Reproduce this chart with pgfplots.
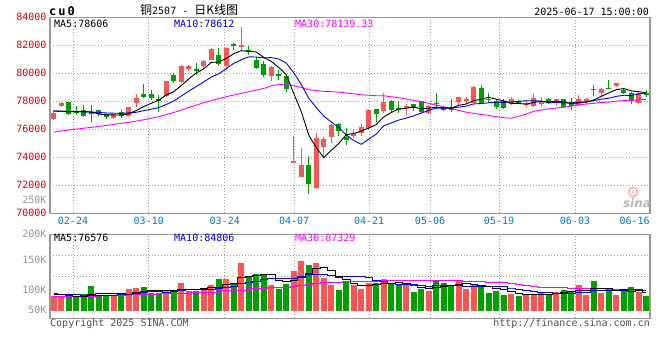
\documentclass[border=0pt]{standalone}
\usepackage{pgfplots}
\pgfplotsset{compat=1.18}
\usepackage{pgfplotstable}
\usepackage{fontspec}
\setmainfont{DejaVu Sans Mono}
\setsansfont{DejaVu Sans}
\newfontfamily\cjk{Noto Sans CJK SC}
\definecolor{kred}{RGB}{250,85,85}
\definecolor{kgreen}{RGB}{0,160,0}
\definecolor{framegray}{RGB}{153,153,153}
\definecolor{gridgray}{RGB}{160,160,160}
\definecolor{labelred}{RGB}{230,0,0}
\definecolor{dateblue}{RGB}{0,120,210}
\definecolor{volgray}{RGB}{150,150,150}
\definecolor{mamag}{RGB}{255,0,255}
\definecolor{mablue}{RGB}{0,0,255}
\definecolor{txtgray}{RGB}{80,80,80}

% i open high low close volume(K)
\pgfplotstableread{
i o h l c v
0 76716 77378 76646 77189 89.4
1 77686 77969 77615 77851 89.4
8 76787 77118 76740 77071 89.4
10 76976 77591 76906 77568 101.7
11 77898 78537 77591 78253 103.3
15 78371 79482 78300 79435 100.0
17 79364 80570 79293 80499 111.7
18 80310 80617 80144 80546 97.8
20 80499 80972 80381 80901 101.7
21 80972 81776 80950 81728 108.3
23 80499 81846 80263 81799 118.3
25 81941 83300 81563 81988 145.0
29 79837 80499 79435 80452 108.3
32 73643 75510 73620 73690 132.2
33 72627 74660 72580 73454 148.3
35 71823 75724 71752 75369 145.6
36 74754 75416 73998 75298 120.0
37 75463 76409 75038 76314 108.3
40 75488 76008 75393 75771 108.9
41 75724 76362 75535 76173 101.7
42 76126 77426 76055 77379 111.7
44 77308 78561 77190 77946 118.3
47 77497 77781 77024 77662 107.8
50 77190 77710 77119 77662 98.9
54 77946 78324 77662 78301 114.4
55 78064 78324 77804 78135 101.7
56 77899 79081 77852 79010 110.0
61 77828 78324 77733 78135 93.9
63 77780 78017 77615 77828 91.1
64 77662 78490 77615 78253 92.2
65 77780 78324 77662 77946 96.7
67 77970 78183 77662 78135 96.7
70 77710 78419 77662 78183 108.3
71 77946 78253 77780 78183 91.7
73 78561 78939 78372 78892 95.0
75 79128 79341 79034 79317 91.7
78 77899 78655 77780 78608 96.7
}\redtab

\pgfplotstableread{
i o h l c v
2 77969 77969 77048 77118 87.8
3 77331 77662 77048 77142 87.8
4 77378 77733 76882 76953 93.3
5 77237 77733 76527 77166 106.7
6 77355 77402 76929 77071 92.2
7 77118 77118 76764 76858 91.1
9 77213 77355 76835 76953 92.2
12 78490 79270 78253 78300 105.0
13 78490 78773 78064 78206 95.0
14 78182 78419 77237 78064 94.4
16 79908 80002 79317 79435 100.0
19 80286 80712 79908 80215 98.9
22 81326 81799 80499 80650 118.3
24 82083 82154 81681 81917 111.7
26 81681 81917 81326 81515 121.1
27 80972 81161 80310 80381 126.7
28 80688 80854 79743 79908 124.4
30 79908 80215 79553 79837 101.7
31 79837 79908 78679 78900 110.0
34 73454 74069 71350 72060 141.7
38 76362 76480 75487 75889 100.0
39 75487 76125 74896 75227 115.6
43 77426 77450 76528 77119 111.7
45 77993 78088 77190 77379 110.0
46 77497 77993 77190 77426 108.9
48 77781 77828 77308 77544 96.7
49 77993 78041 77190 77237 101.7
51 77899 78608 77426 77828 116.7
52 77592 77662 77308 77355 111.7
53 77544 78183 77237 77426 107.8
57 78916 79152 77828 77899 107.8
58 78183 78608 77899 78088 95.0
59 78017 78183 77473 77615 98.9
60 78017 78183 77473 77544 91.7
62 78041 78088 77780 77852 90.0
66 78183 78253 77780 77852 93.3
68 78135 78160 77545 77592 100.6
69 77946 78253 77379 77662 98.9
72 78892 79199 78372 78844 115.0
74 78939 79506 78870 78892 98.9
76 78774 78916 78490 78608 100.0
77 78608 78655 77780 78017 105.0
79 78608 78774 78301 78443 90.0
}\greentab

\pgfplotsset{
  kbase/.style={
    scale only axis, width=600pt, xmin=-0.5, xmax=79.5,
    axis line style={draw=framegray, line width=1.2pt},
    major tick length=0pt,
    tick style={draw=none},
    grid style={draw=gridgray, line width=0.7pt, dash pattern=on 1pt off 2pt},
    /pgf/number format/assume math mode=true,
    tick label style={font=\fontsize{10}{12}\selectfont},
    scaled y ticks=false,
  },
  errbar/.style n args={2}{draw=none, no markers, forget plot,
    error bars/.cd, y dir=both, y explicit, error mark=none,
    error bar style={solid, line width=#2, draw=#1}},
}

\begin{document}
\begin{tikzpicture}
\useasboundingbox (0,0) rectangle (660pt,360pt);
\fill[white] (0,0) rectangle (660pt,360pt);

% ---------------- price panel ----------------
\begin{axis}[kbase, at={(50pt,146.7pt)}, anchor=south west, height=196pt,
  ymin=70000, ymax=84000, ytick={70000,72000,74000,76000,78000,80000,82000,84000},
  yticklabel style={text=labelred, /pgf/number format/1000 sep={}},
  xtick={2.57,12.67,22.8,32.04,42.04,50.17,59.37,69.5,79.45},
  xticklabels={02-24,03-10,03-24,04-07,04-21,05-06,05-19,06-03,\makebox[0pt][r]{06-16}},
  xticklabel style={text=dateblue},
  xmajorgrids, ymajorgrids]
\addplot[errbar={kred}{1pt}] table[x=i, y expr={(\thisrow{h}+\thisrow{l})/2}, y error expr={(\thisrow{h}-\thisrow{l})/2}] {\redtab};
\addplot[errbar={kgreen}{1pt}] table[x=i, y expr={(\thisrow{h}+\thisrow{l})/2}, y error expr={(\thisrow{h}-\thisrow{l})/2}] {\greentab};
\addplot[errbar={kred}{5.3pt}] table[x=i, y expr={(\thisrow{o}+\thisrow{c})/2}, y error expr={max(abs(\thisrow{c}-\thisrow{o})/2,45)}] {\redtab};
\addplot[errbar={kgreen}{5.3pt}] table[x=i, y expr={(\thisrow{o}+\thisrow{c})/2}, y error expr={max(abs(\thisrow{c}-\thisrow{o})/2,45)}] {\greentab};
% MA30
\addplot[mamag, line width=0.9pt] coordinates {
(0,75800)(2,75950)(4,76080)(6,76200)(8,76350)(10,76500)(12,76680)(14,76900)(16,77200)(18,77550)
(20,77900)(22,78200)(24,78450)(26,78680)(28,78920)(29,79104)(30,79193)(31,79228)(32,79113)(33,78990)
(34,78827)(35,78767)(36,78708)(37,78690)(38,78651)(39,78593)(40,78533)(41,78464)(42,78433)(43,78397)
(44,78393)(45,78325)(46,78258)(47,78163)(48,78063)(49,77964)(50,77856)(51,77726)(52,77616)(53,77470)
(54,77350)(55,77221)(56,77138)(57,77055)(58,76994)(59,76900)(60,76823)(61,76798)(62,76937)(63,77082)
(64,77289)(65,77375)(66,77460)(67,77521)(68,77577)(69,77658)(70,77739)(71,77806)(72,77855)(73,77914)
(74,77945)(75,78010)(76,78049)(77,78061)(78,78097)(79,78139)};
% MA10
\addplot[mablue, line width=0.9pt] coordinates {
(0,77300)(1,77290)(2,77280)(3,77260)(4,77250)(5,77230)(6,77200)(7,77170)(8,77150)(9,77137)
(10,77175)(11,77215)(12,77334)(13,77440)(14,77551)(15,77778)(16,78014)(17,78378)(18,78726)(19,79052)
(20,79385)(21,79733)(22,79968)(23,80327)(24,80713)(25,80968)(26,81176)(27,81164)(28,81100)(29,81124)
(30,81018)(31,80735)(32,80039)(33,79204)(34,78219)(35,77557)(36,76935)(37,76528)(38,76126)(39,75604)
(40,75197)(41,74925)(42,75293)(43,75660)(44,76249)(45,76450)(46,76662)(47,76797)(48,76963)(49,77164)
(50,77353)(51,77518)(52,77516)(53,77547)(54,77582)(55,77658)(56,77816)(57,77840)(58,77894)(59,77932)
(60,77920)(61,77951)(62,78001)(63,78041)(64,78036)(65,78017)(66,77901)(67,77925)(68,77875)(69,77880)
(70,77944)(71,77949)(72,78048)(73,78154)(74,78218)(75,78355)(76,78431)(77,78419)(78,78521)(79,78612)};
% MA5
\addplot[black, line width=0.9pt] coordinates {
(0,77307)(1,77300)(2,77260)(3,77250)(4,77251)(5,77246)(6,77090)(7,77038)(8,77024)(9,77024)
(10,77104)(11,77341)(12,77629)(13,77856)(14,78078)(15,78452)(16,78688)(17,79128)(18,79596)(19,80026)
(20,80319)(21,80778)(22,80808)(23,81059)(24,81399)(25,81616)(26,81574)(27,81520)(28,81142)(29,80849)
(30,80419)(31,79896)(32,78557)(33,77267)(34,75588)(35,74695)(36,73974)(37,74499)(38,74986)(39,75619)
(40,75700)(41,75875)(42,76088)(43,76334)(44,76878)(45,77199)(46,77450)(47,77506)(48,77591)(49,77450)
(50,77506)(51,77587)(52,77525)(53,77502)(54,77714)(55,77809)(56,78045)(57,78154)(58,78287)(59,78149)
(60,78031)(61,77856)(62,77847)(63,77795)(64,77922)(65,78003)(66,77946)(67,78003)(68,77956)(69,77837)
(70,77885)(71,77951)(72,78093)(73,78353)(74,78599)(75,78826)(76,78911)(77,78745)(78,78688)(79,78606)};
\end{axis}

% ---------------- volume panel ----------------
\begin{axis}[kbase, at={(50pt,41.7pt)}, anchor=south west, height=84pt,
  ymin=52.8, ymax=192.8, ytick={66.7,100,150,192.8}, yticklabels={50K,100K,150K,200K},
  yticklabel style={text=volgray},
  xtick={2.57,12.67,22.8,32.04,42.04,50.17,59.37,69.5},
  xticklabels={{},{},{},{},{},{},{},{}},
  xmajorgrids, ymajorgrids=false,
  extra y ticks={88.3,123.3,158.3}, extra y tick labels={}, extra y tick style={grid=major}]
\addplot[errbar={kred}{6pt}] table[x=i, y expr={(\thisrow{v}+65.6)/2}, y error expr={(\thisrow{v}-65.6)/2}] {\redtab};
\addplot[errbar={kgreen}{6pt}] table[x=i, y expr={(\thisrow{v}+65.6)/2}, y error expr={(\thisrow{v}-65.6)/2}] {\greentab};
% vol MA30
\addplot[mamag, line width=0.9pt, const plot mark mid] coordinates {
(0,90)(4,90)(8,90.5)(12,92.5)(16,94.5)(20,96.5)(24,99)(28,102.5)(29,103.7)(30,104.1)(31,104.8)
(32,106.3)(33,108.3)(34,109.9)(35,111.2)(36,112.1)(37,112.7)(38,113.1)(39,113.8)(40,114.1)(41,114.0)
(42,114.2)(43,114.8)(44,115.6)(45,115.9)(46,116.2)(47,116.1)(48,116.1)(49,116.2)(50,116.1)(51,116.3)
(52,116.1)(53,115.8)(54,115.9)(55,114.4)(56,114.0)(57,113.4)(58,112.4)(59,112.1)(60,111.8)(61,111.3)
(62,109.8)(63,107.9)(64,106.3)(65,104.7)(66,103.8)(67,103.4)(68,103.4)(69,102.8)(70,102.8)(71,102.5)
(72,102.6)(73,102.0)(74,101.4)(75,100.8)(76,100.5)(77,100.4)(78,100.4)(79,100.0)};
% vol MA10
\addplot[mablue, line width=0.9pt, const plot mark mid] coordinates {
(0,93.5)(1,93)(2,92.5)(3,92)(4,91.5)(5,91.5)(6,91.5)(7,91.5)(8,91.5)(9,91.9)
(10,93.2)(11,94.6)(12,96.3)(13,97.0)(14,97.1)(15,96.4)(16,97.2)(17,99.3)(18,100.1)(19,100.8)
(20,100.8)(21,101.3)(22,102.6)(23,104.9)(24,106.7)(25,111.2)(26,113.3)(27,114.8)(28,117.4)(29,118.4)
(30,118.4)(31,118.6)(32,119.9)(33,122.9)(34,125.9)(35,126.0)(36,125.9)(37,124.1)(38,121.6)(39,122.3)
(40,123.1)(41,122.2)(42,120.2)(43,116.5)(44,114.2)(45,110.6)(46,109.5)(47,109.5)(48,109.1)(49,107.7)
(50,106.7)(51,108.2)(52,108.2)(53,107.9)(54,107.5)(55,106.6)(56,106.7)(57,106.7)(58,106.6)(59,106.3)
(60,105.6)(61,103.3)(62,101.1)(63,99.5)(64,97.2)(65,96.7)(66,95.1)(67,94.0)(68,94.5)(69,94.5)
(70,96.2)(71,96.0)(72,98.5)(73,98.8)(74,99.5)(75,99.0)(76,99.7)(77,100.5)(78,100.1)(79,99.2)};
% vol MA5
\addplot[black, line width=0.9pt, const plot mark mid] coordinates {
(0,93)(1,92)(2,90.5)(3,89.5)(4,89.5)(5,93.0)(6,93.6)(7,94.2)(8,94.5)(9,94.3)
(10,93.3)(11,95.5)(12,98.3)(13,99.4)(14,99.9)(15,99.5)(16,98.9)(17,100.2)(18,100.8)(19,101.7)
(20,102.0)(21,103.7)(22,105.0)(23,109.1)(24,111.7)(25,120.3)(26,122.9)(27,124.6)(28,125.8)(29,125.1)
(30,116.4)(31,114.2)(32,115.3)(33,120.1)(34,126.8)(35,135.6)(36,137.6)(37,132.8)(38,123.1)(39,117.9)
(40,110.6)(41,106.9)(42,107.6)(43,109.9)(44,110.5)(45,110.7)(46,112.1)(47,111.3)(48,108.3)(49,105.0)
(50,102.8)(51,104.4)(52,105.1)(53,107.4)(54,109.9)(55,110.5)(56,109.1)(57,108.3)(58,105.8)(59,102.7)
(60,100.7)(61,97.5)(62,93.9)(63,93.1)(64,91.8)(65,92.8)(66,92.7)(67,94.0)(68,95.9)(69,97.2)
(70,99.6)(71,99.2)(72,102.9)(73,101.8)(74,101.8)(75,98.5)(76,100.1)(77,98.1)(78,98.5)(79,96.7)};
\end{axis}

% ---------------- texts ----------------
\begin{scope}[every node/.style={inner sep=0pt, font=\fontsize{10}{12}\selectfont}]
\node[anchor=west] at (49pt,349pt) {\fontsize{12}{14}\selectfont\bfseries c\hspace{2pt}u\hspace{2pt}0};
\node[anchor=west] at (140pt,350.5pt) {{\cjk\fontsize{12}{14}\selectfont 铜}2507 - {\cjk\fontsize{12}{14}\selectfont 日K线图}};
\node[anchor=east] at (649pt,348pt) {2025-06-17 15:00:00};
\node[anchor=west] at (54pt,336pt) {MA5:78606};
\node[anchor=west, text=mablue] at (174pt,336pt) {MA10:78612};
\node[anchor=west, text=mamag] at (295pt,336pt) {MA30:78139.33};
\node[anchor=west] at (54pt,121.7pt) {MA5:76576};
\node[anchor=west, text=mablue] at (174pt,121.7pt) {MA10:84806};
\node[anchor=west, text=mamag] at (295pt,121.7pt) {MA30:87329};
\node[anchor=east, text=volgray] at (46.7pt,160pt) {250K};
\node[anchor=west, text=txtgray] at (50pt,36.7pt) {Copyright 2025 SINA.COM};
\node[anchor=east, text=txtgray] at (650pt,36.7pt) {http://finance.sina.com.cn};
\draw[kred!45, line width=1.6pt] (633pt,168pt) circle (4.5pt);
\fill[kred!45] (633pt,168pt) circle (1.5pt);
\node[text=gray!55] at (637pt,157pt) {\sffamily\bfseries\itshape\fontsize{12}{13}\selectfont sina};
\end{scope}
\end{tikzpicture}
\end{document}
